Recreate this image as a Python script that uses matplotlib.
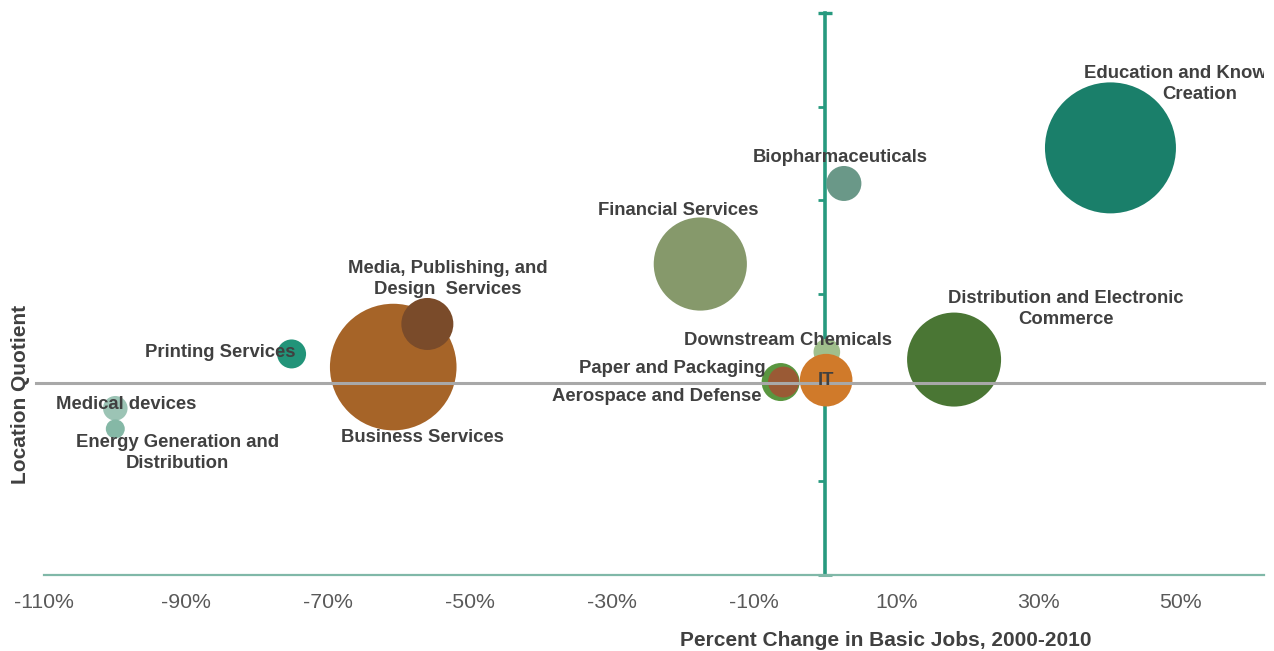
import matplotlib
matplotlib.use("Agg")
from matplotlib import pyplot as plt
from matplotlib.lines import Line2D
import numpy as np

plt.rcParams['font.family'] = ['Liberation Sans', 'DejaVu Sans']

# 产业集群数据
clusters = ["Education and Knowledge\nCreation", "Biopharmaceuticals", "Financial Services",
            "Business Services", "Media, Publishing, and\nDesign  Services", "Printing Services",
            "Medical devices", "Energy Generation and\nDistribution",
            "Distribution and Electronic\nCommerce", "Downstream Chemicals", "IT",
            "Paper and Packaging", "Aerospace and Defense"]
job_change = [40.1, 2.6, -17.6, -60.8, -56.0, -75.1, -99.9, -99.9, 18.1, 0.2, 0.1, -6.3, -5.9]
location_quotient = [2.28, 2.09, 1.66, 1.11, 1.34, 1.18, 0.89, 0.78, 1.15, 1.19, 1.04, 1.03, 1.03]
employment = [42900, 3060, 21700, 40070, 6760, 2100, 1510, 900, 22090, 1770, 6920, 3610, 2370]
colors = ["#1a7f6a", "#6a9888", "#86996b", "#a66428", "#7a4b2a", "#229479", "#9cc4b5",
          "#85b8a6", "#4a7634", "#a0bf8c", "#d07a2a", "#5a9640", "#9a5a35"]
# 标签偏移 (像素)
label_offsets = [(89, 64), (-4, 26), (-22, 54), (29, -70), (20, 45), (-71, 1), (11, 4),
                 (62, -24), (112, 51), (-39, 12), (0, 0), (-108, 14), (-127, -14)]

x_ticks = [-110, -90, -70, -50, -30, -10, 10, 30, 50]
lq_ticks = [0.5, 1.0, 1.5, 2.0, 2.5]
lq_baseline = 1.027

teal = "#279a7f"
axis_teal = "#80b8a8"
text_gray = "#404040"

fig = plt.figure(figsize=(12.74, 6.51), dpi=100)
ax = fig.add_axes([43.5 / 1274, 76 / 651, (1264 - 43.5) / 1274, 562 / 651])
ax.set_xlim(-110, 61.7)
ax.set_ylim(0, 3)

ax.scatter(job_change, location_quotient, s=np.array(employment) * 0.20736,
           c=colors, linewidths=0, zorder=3)

# 基准线
ax.add_line(Line2D([-111, 61.7], [lq_baseline, lq_baseline], color="#a8a8a8",
                   linewidth=2.2, zorder=4, clip_on=False))

for name, x, y, (dx, dy) in zip(clusters, job_change, location_quotient, label_offsets):
    ax.annotate(name, (x, y), xytext=(dx, dy), textcoords="offset pixels",
                ha="center", va="center", fontsize=13.3, fontweight="bold",
                linespacing=1.3, color=text_gray, zorder=5,
                annotation_clip=False, clip_on=True)

# 坐标轴样式
for side in ["top", "right"]:
    ax.spines[side].set_visible(False)
ax.spines["bottom"].set_color(axis_teal)
ax.spines["bottom"].set_linewidth(1.6)
ax.spines["left"].set_position(("data", 0))
ax.spines["left"].set_color(teal)
ax.spines["left"].set_linewidth(2.6)
ax.spines["left"].set_bounds(0, 3)

ax.set_yticks(lq_ticks)
ax.tick_params(axis="y", direction="out", length=5, width=2, color=teal, labelleft=False)
ax.plot([0], [3], marker="_", markersize=10, markeredgewidth=2.4, color=teal,
        clip_on=False, zorder=2.6)
ax.plot([0], [0], marker="_", markersize=10, markeredgewidth=2.2, color=axis_teal,
        clip_on=False, zorder=2.6)

ax.set_xticks(x_ticks)
ax.set_xticklabels([f"{v}%" for v in x_ticks])
ax.tick_params(axis="x", length=0, pad=13, labelsize=15.3, labelcolor="#595959")

fig.text(886 / 1274, 1 - 640 / 651, "Percent Change in Basic Jobs, 2000-2010",
         ha="center", va="center", fontsize=15, fontweight="bold", color=text_gray)
fig.text(21 / 1274, 1 - 394 / 651, "Location Quotient", rotation=90,
         ha="center", va="center", fontsize=15, fontweight="bold", color=text_gray)

plt.savefig("out.png", dpi=100)
